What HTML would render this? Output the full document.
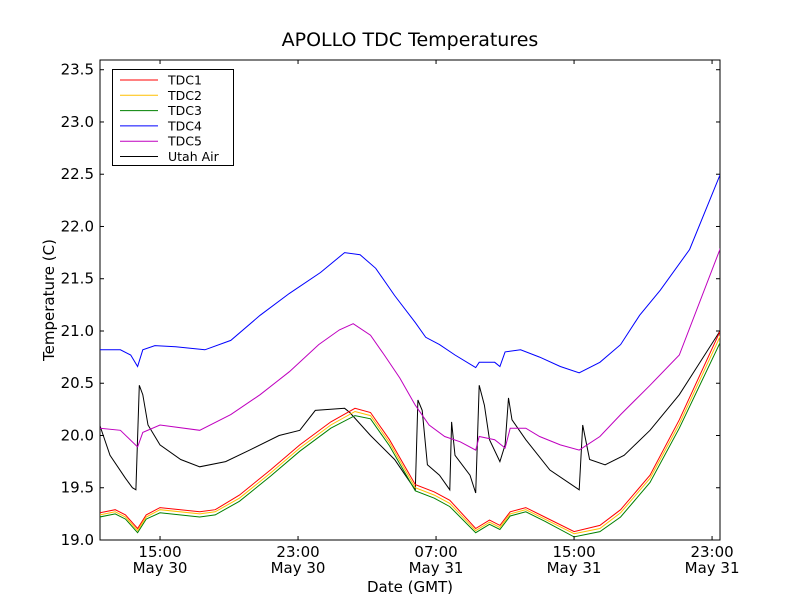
<!DOCTYPE html>
<html><head><meta charset="utf-8"><style>
body{margin:0;background:#fff;}
svg text{font-family:"DejaVu Sans","Liberation Sans",sans-serif;}
</style></head><body>
<svg id="chart" width="800" height="600" xmlns="http://www.w3.org/2000/svg">
<rect width="800" height="600" fill="#fff"/>
<text x="410" y="46" font-size="19" text-anchor="middle">APOLLO TDC Temperatures</text>
<g id="plot"></g>
<text x="410" y="592" font-size="15" text-anchor="middle">Date (GMT)</text>
<text transform="translate(54,300) rotate(-90)" font-size="15" text-anchor="middle">Temperature (C)</text>
</svg>
<script>
const seriesNames=["TDC1","TDC2","TDC3","TDC4","TDC5","Utah Air"];
const seriesColors=["#ff0000","#ffbf00","#008000","#0000ff","#bf00bf","#000000"];
const yTicks=[19.0,19.5,20.0,20.5,21.0,21.5,22.0,22.5,23.0,23.5];
const xTicks=[15,23,31,39,47];
const xTickLabels=[["15:00","May 30"],["23:00","May 30"],["07:00","May 31"],["15:00","May 31"],["23:00","May 31"]];
// times in hours since May 30 00:00 GMT
const t1=[11.5,12.4,13.0,13.7,14.2,15.0,17.3,18.2,19.6,21.4,23.1,24.9,26.3,27.2,28.3,29.8,30.9,31.8,33.3,34.1,34.7,35.3,36.2,37.3,39.0,40.5,41.7,43.4,45.1,47.5];
const tdc1=[19.26,19.29,19.24,19.11,19.24,19.31,19.27,19.29,19.43,19.67,19.91,20.13,20.26,20.22,19.96,19.53,19.46,19.38,19.11,19.19,19.14,19.27,19.31,19.22,19.08,19.14,19.29,19.62,20.15,21.01];
const tdc2=[19.24,19.27,19.22,19.09,19.22,19.29,19.25,19.27,19.40,19.64,19.88,20.10,20.23,20.19,19.93,19.50,19.43,19.35,19.09,19.17,19.12,19.25,19.29,19.20,19.06,19.11,19.26,19.59,20.11,20.96];
const tdc3=[19.22,19.25,19.20,19.07,19.20,19.26,19.22,19.24,19.37,19.61,19.85,20.07,20.19,20.16,19.90,19.47,19.40,19.32,19.07,19.15,19.10,19.23,19.27,19.18,19.03,19.08,19.22,19.55,20.07,20.90];
const t4=[11.5,12.7,13.3,13.7,14.0,14.7,15.9,17.6,19.1,20.8,22.5,24.3,25.7,26.6,27.5,28.6,29.8,30.4,31.2,32.1,33.3,33.5,34.4,34.7,35.0,35.9,37.0,38.2,39.3,40.5,41.7,42.8,44.0,45.7,47.5];
const tdc4=[20.82,20.82,20.77,20.66,20.82,20.86,20.85,20.82,20.91,21.15,21.36,21.56,21.75,21.73,21.6,21.34,21.08,20.94,20.87,20.77,20.65,20.70,20.70,20.66,20.80,20.82,20.75,20.66,20.60,20.70,20.87,21.15,21.39,21.78,22.51];
const t5=[11.5,12.7,13.7,14.0,15.0,17.3,19.1,20.8,22.5,24.2,25.4,26.2,27.2,28.0,28.9,29.8,30.6,31.5,32.4,33.3,33.5,34.4,35.0,35.3,36.2,37.0,38.2,39.3,40.5,41.7,43.4,45.1,47.5];
const tdc5=[20.07,20.05,19.89,20.03,20.10,20.05,20.20,20.39,20.61,20.87,21.01,21.07,20.96,20.77,20.55,20.29,20.10,19.99,19.94,19.86,19.99,19.96,19.88,20.07,20.07,19.99,19.91,19.86,19.99,20.20,20.48,20.77,21.8];
const tAir=[11.5,12.1,13.0,13.4,13.6,13.8,14.0,14.3,15.0,16.2,17.3,18.8,20.2,21.9,23.1,24.0,25.7,26.0,27.2,28.6,29.8,29.95,30.2,30.5,31.2,31.8,31.9,32.1,32.97,33.3,33.5,33.8,34.1,34.7,35.0,35.2,35.4,36.2,37.6,39.3,39.5,39.9,40.8,41.9,43.4,45.1,47.5];
const air=[20.1,19.81,19.59,19.5,19.48,20.48,20.39,20.1,19.91,19.77,19.7,19.75,19.86,20.0,20.05,20.24,20.26,20.22,20.0,19.77,19.48,20.34,20.24,19.72,19.62,19.48,20.13,19.81,19.62,19.45,20.48,20.29,19.96,19.75,19.91,20.36,20.15,19.96,19.67,19.48,20.1,19.77,19.72,19.81,20.05,20.39,21.01];

const L=100,R=720,T=60,B=540,X0=11.52,X1=47.46,Y0=19.0,Y1=23.593;
const xs=h=>L+(h-X0)/(X1-X0)*(R-L);
const ys=v=>B-(v-Y0)/(Y1-Y0)*(B-T);
const NS="http://www.w3.org/2000/svg";
const g=document.getElementById('plot');
function mk(tag,attrs,parent){const e=document.createElementNS(NS,tag);for(const k in attrs)e.setAttribute(k,attrs[k]);(parent||g).appendChild(e);return e;}
const frame=mk('rect',{x:L,y:T,width:R-L,height:B-T,fill:'#fff',stroke:'#000','stroke-width':1});


const clip=mk('clipPath',{id:'cp'});mk('rect',{x:L,y:T,width:R-L,height:B-T},clip);
const data=[[t1,tdc1],[t1,tdc2],[t1,tdc3],[t4,tdc4],[t5,tdc5],[tAir,air]];
const order=[5,4,3,2,1,0];
order.forEach(i=>{
  const [tt,vv]=data[i];
  const p=mk('polyline',{points:tt.map((t,j)=>xs(t).toFixed(1)+','+ys(vv[j]).toFixed(1)).join(' '),fill:'none',stroke:seriesColors[i],'stroke-width':1,'clip-path':'url(#cp)'});
  
  
});
yTicks.forEach(v=>{
  const y=ys(v);
  mk('line',{x1:L,x2:L+4,y1:y,y2:y,stroke:'#000'});
  mk('line',{x1:R,x2:R-4,y1:y,y2:y,stroke:'#000'});
  const tx=mk('text',{x:L-6,y:y+5,'font-size':15,'text-anchor':'end'});tx.textContent=v.toFixed(1);
  
  
});
xTicks.forEach((h,i)=>{
  const x=xs(h);
  mk('line',{x1:x,x2:x,y1:B,y2:B-4,stroke:'#000'});
  mk('line',{x1:x,x2:x,y1:T,y2:T+4,stroke:'#000'});
  const a=mk('text',{x:x,y:B+17,'font-size':15,'text-anchor':'middle'});a.textContent=xTickLabels[i][0];
  
  
  const b=mk('text',{x:x,y:B+33,'font-size':15,'text-anchor':'middle'});b.textContent=xTickLabels[i][1];
  
  
});
const lg=mk('g',{});


mk('rect',{x:112.5,y:69.5,width:121,height:96,fill:'#fff',stroke:'#000'},lg);
seriesNames.forEach((n,i)=>{
  const y=80+i*15.3;
  const e=mk('g',{},lg);
  
  
  mk('line',{x1:120,x2:158,y1:y,y2:y,stroke:seriesColors[i]},e);
  const t=mk('text',{x:168,y:y+4.5,'font-size':12.5},e);t.textContent=n;
});
</script>
</body></html>
